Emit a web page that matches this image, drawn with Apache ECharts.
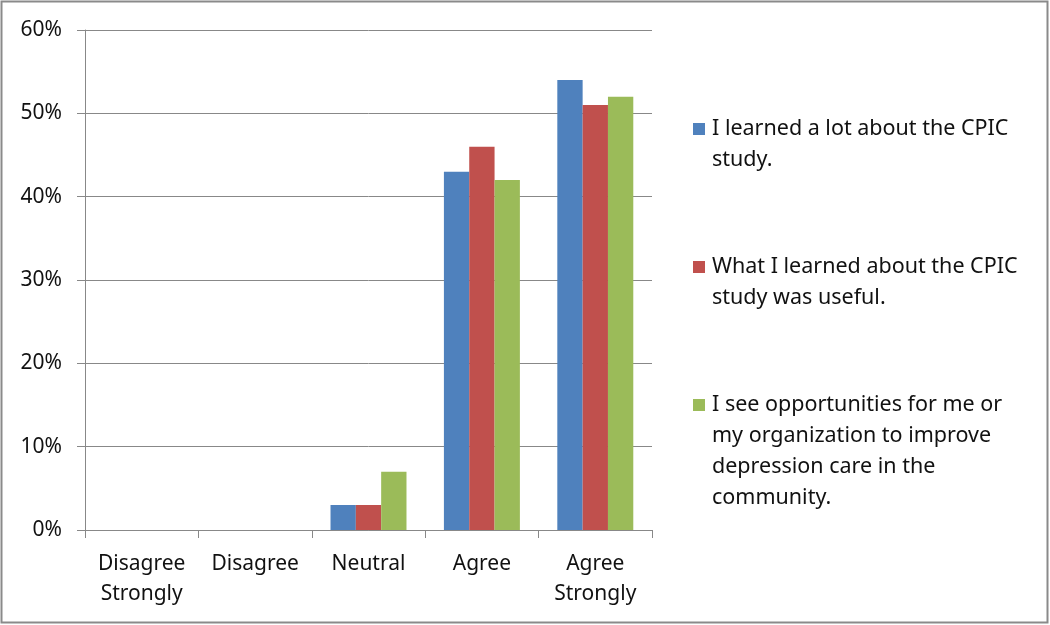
<!DOCTYPE html>
<html>
<head>
<meta charset="utf-8">
<script src="https://cdn.jsdelivr.net/npm/echarts@6/dist/echarts.min.js"></script>
<style>
html,body{margin:0;padding:0;background:#fff;}
#chart{width:1050px;height:625px;}
</style>
</head>
<body>
<div id="chart"></div>
<script>
const categories = ['Disagree\nStrongly', 'Disagree', 'Neutral', 'Agree', 'Agree\nStrongly'];
const yTicks = [0, 10, 20, 30, 40, 50, 60];
const seriesNames = [
  'I learned a lot about the CPIC study.',
  'What I learned about the CPIC study was useful.',
  'I see opportunities for me or my organization to improve depression care in the community.'
];
const legendLines = [
  ['I learned a lot about the CPIC', 'study.'],
  ['What I learned about the CPIC', 'study was useful.'],
  ['I see opportunities for me or', 'my organization to improve', 'depression care in the', 'community.']
];
const learnedALot = [0, 0, 3, 43, 54];
const wasUseful = [0, 0, 3, 46, 51];
const opportunities = [0, 0, 7, 42, 52];
const colors = ['#4f81bd', '#c0504d', '#9bbb59'];
const seriesData = [learnedALot, wasUseful, opportunities];

const FONT = 'Noto Sans';
const LH = 31;
const legendFirstLineCenters = [129, 267, 405];

const chart = echarts.init(document.getElementById('chart'));
const legends = seriesNames.map((name, i) => {
  const n = legendLines[i].length;
  return {
    orient: 'vertical',
    left: 693,
    top: legendFirstLineCenters[i] - (2 * n - 1) * LH / 2,
    itemWidth: 12,
    itemHeight: 12,
    itemGap: 0,
    padding: 0,
    selectedMode: false,
    icon: 'rect',
    data: [name],
    formatter: () => '\n'.repeat(n - 1) + legendLines[i].join('\n'),
    textStyle: {fontFamily: FONT, fontSize: 21.5, color: '#111', lineHeight: LH, padding: [0, 0, 0, 2]}
  };
});

chart.setOption({
  animation: false,
  backgroundColor: '#fff',
  graphic: [{
    type: 'rect', silent: true, z: 100,
    shape: {x: 1.5, y: 1.5, width: 1046, height: 621},
    style: {fill: 'none', stroke: '#8a8a8a', lineWidth: 2}
  }],
  legend: legends,
  grid: {left: 85, right: 398, top: 30, bottom: 95, containLabel: false},
  xAxis: {
    type: 'category',
    data: categories,
    axisLine: {lineStyle: {color: '#888', width: 1}},
    axisTick: {show: true, length: 8, lineStyle: {color: '#888'}},
    axisLabel: {fontFamily: FONT, fontSize: 21, color: '#111', lineHeight: 30, margin: 19, interval: 0}
  },
  yAxis: {
    type: 'value',
    min: 0, max: 60, interval: 10,
    axisLine: {show: true, lineStyle: {color: '#888'}},
    axisTick: {show: true, length: 8, lineStyle: {color: '#888'}},
    splitLine: {show: true, lineStyle: {color: '#888', width: 1}},
    axisLabel: {fontFamily: FONT, fontSize: 21, color: '#111', margin: 23,
      formatter: v => yTicks.includes(v) ? v + '%' : ''}
  },
  series: seriesNames.map((name, i) => ({
    name: name,
    type: 'bar',
    data: seriesData[i],
    barGap: '0%',
    barCategoryGap: '33%',
    itemStyle: {color: colors[i]}
  }))
});
</script>
</body>
</html>
